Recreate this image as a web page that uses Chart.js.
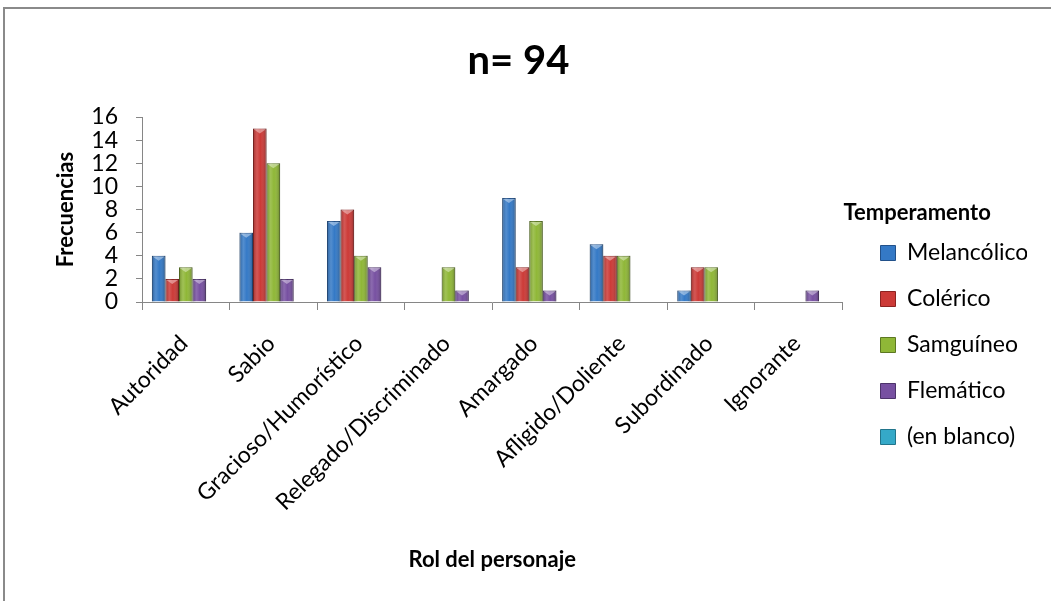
<!DOCTYPE html>
<html lang="es">
<head>
<meta charset="utf-8">
<title>n= 94</title>
<script src="https://cdn.jsdelivr.net/npm/chart.js@4.4.1/dist/chart.umd.min.js"></script>
<style>
  html, body { margin: 0; padding: 0; background: #fff; }
  canvas { display: block; }
</style>
</head>
<body>
<canvas id="chart" width="1051" height="601"></canvas>
<script>
// Rol del personaje (categorías)
var roles = ['Autoridad', 'Sabio', 'Gracioso/Humorístico', 'Relegado/Discriminado',
             'Amargado', 'Afligido/Doliente', 'Subordinado', 'Ignorante'];

// Frecuencias por temperamento (null = celda vacía)
var melancolico = [4, 6, 7, null, 9, 5, 1, null];
var colerico    = [2, 15, 8, null, 3, 4, 3, null];
var samguineo   = [3, 12, 4, 3, 7, 4, 3, null];
var flematico   = [2, 2, 3, 1, 1, null, null, 1];
var enBlanco    = [null, null, null, null, null, null, null, null];

var yTicks = [0, 2, 4, 6, 8, 10, 12, 14, 16];

Chart.defaults.font.family = 'Lato, "Open Sans", sans-serif';
Chart.defaults.color = '#000';

var gris = '#868686';

// marco exterior del gráfico
var marco = {
    id: 'marco',
    beforeDraw: function(chart) {
        var ctx = chart.ctx;
        ctx.save();
        ctx.strokeStyle = '#8a8a8a';
        ctx.lineWidth = 2;
        ctx.strokeRect(4, 8, 1100, 700);
        ctx.restore();
    }
};

// sombreado tipo bisel sobre cada barra
var bisel = {
    id: 'bisel',
    afterDatasetsDraw: function(chart) {
        var ctx = chart.ctx;
        chart.data.datasets.forEach(function(ds, i) {
            var meta = chart.getDatasetMeta(i);
            if (meta.hidden) return;
            meta.data.forEach(function(bar) {
                var p = bar.getProps(['x', 'y', 'base', 'width'], true);
                var h = p.base - p.y;
                if (!(h > 0)) return;
                var left = p.x - p.width / 2;
                var g = ctx.createLinearGradient(left, 0, left + p.width, 0);
                g.addColorStop(0, 'rgba(0,0,0,0.22)');
                g.addColorStop(0.3, 'rgba(255,255,255,0.15)');
                g.addColorStop(0.55, 'rgba(255,255,255,0)');
                g.addColorStop(1, 'rgba(0,0,0,0.28)');
                ctx.save();
                ctx.fillStyle = g;
                ctx.fillRect(left, p.y, p.width, h);
                ctx.fillStyle = 'rgba(255,255,255,0.4)';
                ctx.beginPath();
                ctx.moveTo(left + 1, p.y + 1);
                ctx.lineTo(left + p.width - 1, p.y + 1);
                ctx.lineTo(p.x, p.y + Math.min(5, h));
                ctx.closePath();
                ctx.fill();
                ctx.restore();
            });
        });
    }
};

// título de la leyenda
var tituloLeyenda = {
    id: 'tituloLeyenda',
    afterDraw: function(chart) {
        var lg = chart.legend;
        var ctx = chart.ctx;
        ctx.save();
        ctx.font = 'bold 22px Lato, "Open Sans", sans-serif';
        ctx.fillStyle = '#000';
        ctx.textBaseline = 'middle';
        ctx.textAlign = 'left';
        ctx.fillText('Temperamento', lg.left - 14, lg.top + 203);
        ctx.restore();
    }
};

var ctx = document.getElementById('chart').getContext('2d');
var chart = new Chart(ctx, {
    type: 'bar',
    data: {
        labels: roles,
        datasets: [{
            label: 'Melancólico',
            data: melancolico,
            backgroundColor: '#3479c6',
            borderColor: '#22518a',
            borderWidth: 1
        }, {
            label: 'Colérico',
            data: colerico,
            backgroundColor: '#cc3a37',
            borderColor: '#8c2321',
            borderWidth: 1
        }, {
            label: 'Samguíneo',
            data: samguineo,
            backgroundColor: '#8fb737',
            borderColor: '#5c7822',
            borderWidth: 1
        }, {
            label: 'Flemático',
            data: flematico,
            backgroundColor: '#7750a1',
            borderColor: '#4d336b',
            borderWidth: 1
        }, {
            label: '(en blanco)',
            data: enBlanco,
            backgroundColor: '#35a9c8',
            borderColor: '#22758b',
            borderWidth: 1
        }]
    },
    options: {
        responsive: false,
        animation: false,
        layout: {
            padding: { top: 10, left: 10, right: 24, bottom: 10 }
        },
        datasets: {
            bar: { categoryPercentage: 0.774, barPercentage: 1 }
        },
        scales: {
            x: {
                grid: { drawOnChartArea: false, tickLength: 8, color: gris, offset: true },
                border: { color: gris },
                ticks: {
                    autoSkip: false,
                    minRotation: 45,
                    maxRotation: 45,
                    padding: 20,
                    labelOffset: -2,
                    font: { size: 23 }
                },
                title: {
                    display: true,
                    text: 'Rol del personaje',
                    font: { size: 22, weight: 'bold' },
                    padding: { top: 0, bottom: 18 }
                },
                afterFit: function(s) { s.height = 289; }
            },
            y: {
                min: 0,
                max: 16,
                ticks: { stepSize: 2, autoSkip: false, padding: 18, font: { size: 23 } },
                afterBuildTicks: function(s) {
                    s.ticks = yTicks.map(function(v) { return { value: v }; });
                },
                grid: { drawOnChartArea: false, tickLength: 6, color: gris },
                border: { color: gris },
                title: {
                    display: true,
                    text: 'Frecuencias',
                    font: { size: 22, weight: 'bold' },
                    padding: { top: 43, bottom: 0 }
                },
                afterFit: function(s) { s.width = 132; }
            },
            hueco: {
                type: 'linear',
                position: 'right',
                display: true,
                grid: { display: false },
                border: { display: false },
                ticks: { display: false },
                afterFit: function(s) { s.width = 15; }
            }
        },
        plugins: {
            title: {
                display: true,
                text: 'n= 94',
                font: { size: 40, weight: 'bold' },
                padding: { top: 27.5, bottom: 31.5 }
            },
            legend: {
                position: 'right',
                align: 'start',
                title: {
                    display: true,
                    text: '',
                    font: { size: 22 },
                    padding: { top: 182.1, bottom: 0 }
                },
                labels: {
                    boxWidth: 15,
                    boxHeight: 15,
                    padding: 23,
                    font: { size: 23 }
                }
            },
            tooltip: { enabled: false }
        }
    },
    plugins: [marco, bisel, tituloLeyenda]
});
</script>
</body>
</html>
